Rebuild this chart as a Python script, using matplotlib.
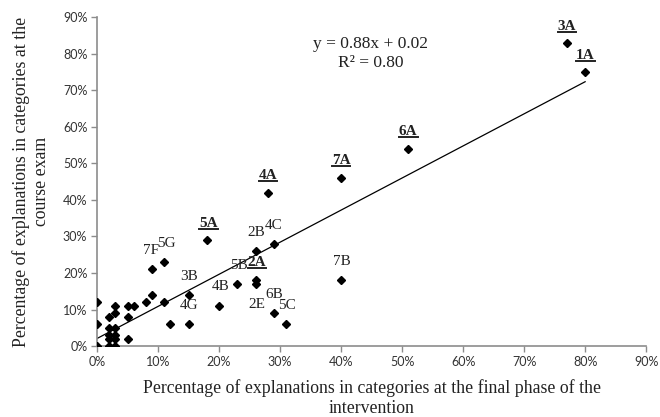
import numpy as np
import matplotlib
matplotlib.use("Agg")
import matplotlib.pyplot as plt
from matplotlib.lines import Line2D
from matplotlib.ticker import FuncFormatter

plt.rcParams['font.family'] = ['Liberation Serif', 'DejaVu Serif']

# percentages: final phase of intervention (x) vs. course exam (y)
final_phase = [0, 0, 0, 2, 2, 2, 2, 2, 3, 3, 3, 3, 3, 3, 5, 5, 5, 6, 8, 9, 9, 11, 11, 12,
               15, 15, 18, 20, 23, 26, 26, 26, 29, 29, 31, 28, 40, 40, 51, 77, 80]
course_exam = [12, 6, 0, 8, 5, 3, 2, 0, 11, 9, 5, 3, 2, 0, 11, 8, 2, 11, 12, 14, 21, 23, 12, 6,
               14, 6, 29, 11, 17, 26, 18, 17, 28, 9, 6, 42, 46, 18, 54, 83, 75]

# category labels and where they sit
labels = ['3A', '1A', '6A', '7A', '4A', '5A', '2A',
          '5B', '2B', '4C', '4B', '2E', '6B', '5C', '7B', '3B', '4G', '7F', '5G']
label_x = [77, 80, 51, 40, 28, 18.3, 26.2, 23.2, 26.1, 29.0, 20.2, 26.2, 29.0, 31.2, 40.2, 15.1, 15.1, 8.9, 11.4]
label_y = [87.4, 79.5, 58.7, 50.8, 46.7, 33.5, 23.0, 22.1, 31.2, 33.1, 16.2, 11.5, 14.2, 11.2, 23.2, 19.1, 11.2, 26.2, 28.1]
underlined = ['3A', '1A', '6A', '7A', '4A', '5A', '2A']

eq_text = 'y = 0.88x + 0.02\nR² = 0.80'

fig = plt.figure(figsize=(6.6, 4.17), dpi=100)
ax = fig.add_axes([0.147, 0.170, 0.832, 0.789])

ax.plot(final_phase, course_exam, 'D', color='black', ms=4.3, zorder=3)

# linear trend line over the data range
xs = np.array(final_phase, dtype=float)
ys = np.array(course_exam, dtype=float)
slope, intercept = np.polyfit(xs, ys, 1)
line_x = np.array([xs.min(), xs.max()])
ax.plot(line_x, slope * line_x + intercept, color='black', lw=0.9, zorder=2)

bold_texts = []
for lab, lx, ly in zip(labels, label_x, label_y):
    if lab in underlined:
        t = ax.text(lx, ly, lab, ha='center', va='center', fontsize=11,
                    fontweight='bold', color='#222222')
        bold_texts.append(t)
    else:
        ax.text(lx, ly, lab, ha='center', va='center', fontsize=11, color='#222222')

ax.text(44.8, 80.0, eq_text, ha='center', va='center', fontsize=12.5,
        linespacing=1.2, color='#222222')

ax.set_xlim(0, 90)
ax.set_ylim(0, 90)
ax.set_xticks(range(0, 91, 10))
ax.set_yticks(range(0, 91, 10))
pct = FuncFormatter(lambda v, p: '%d%%' % v)
ax.xaxis.set_major_formatter(pct)
ax.yaxis.set_major_formatter(pct)
for t in ax.get_xticklabels() + ax.get_yticklabels():
    t.set_family(['Lato', 'DejaVu Sans'])
    t.set_fontsize(9)
    t.set_color('#333333')

for side in ['top', 'right']:
    ax.spines[side].set_visible(False)
for side in ['left', 'bottom']:
    ax.spines[side].set_color('#8c8c8c')
    ax.spines[side].set_linewidth(1.2)
ax.tick_params(axis='both', direction='out', length=4, width=1, color='#8c8c8c', pad=3)

ax.set_xlabel('Percentage of explanations in categories at the final phase of the\nintervention',
              fontsize=12.8, color='#222222', labelpad=8, linespacing=1.25)
ax.set_ylabel('Percentage of explanations in categories at the\ncourse exam',
              fontsize=12.8, color='#222222', labelpad=9, linespacing=1.25)

# underline the bold labels, using their rendered extents
fig.canvas.draw()
inv = fig.transFigure.inverted()
for t in bold_texts:
    bb = t.get_window_extent()
    (x0, y0), (x1, y1) = inv.transform([(bb.x0, bb.y0 + 1), (bb.x1, bb.y0 + 1)])
    fig.add_artist(Line2D([x0, x1], [y0, y1], color='#222222', lw=1.4))

fig.savefig('out.png', dpi=100)
